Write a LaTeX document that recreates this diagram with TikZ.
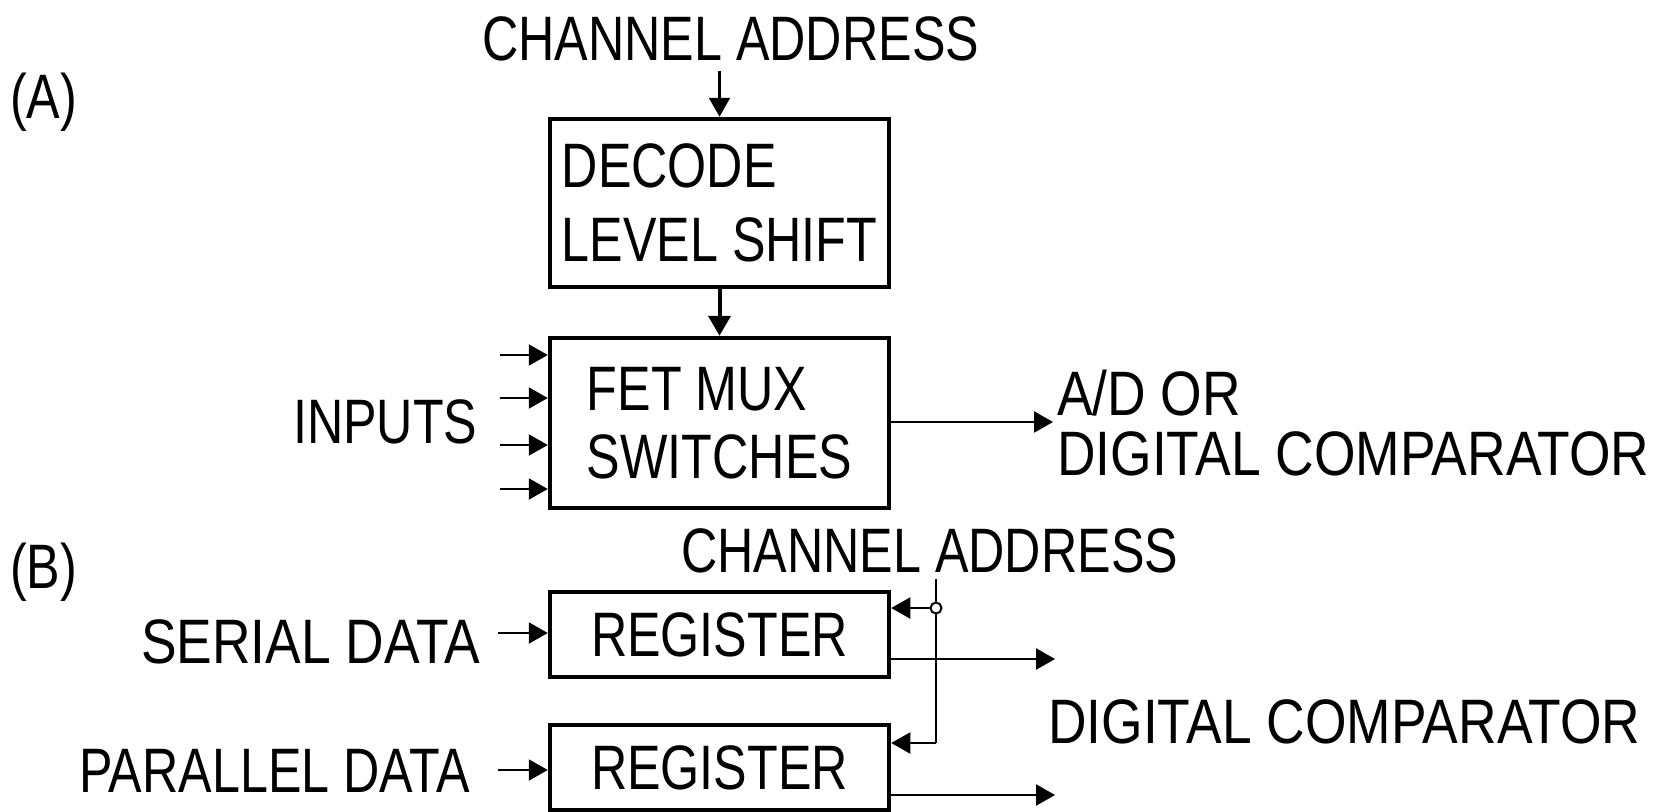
\documentclass[tikz,border=0pt]{standalone}
\usepackage{fontspec}
\setmainfont{Liberation Sans}[FakeStretch=0.8]
\newfontfamily\widefont{Liberation Sans}[FakeStretch=0.85]
\usetikzlibrary{arrows.meta}
\begin{document}
\begin{tikzpicture}[x=1pt,y=-1pt,
  lbl/.style={inner sep=0pt, anchor=base west, font=\fontsize{62.8}{74}\selectfont},
  wlbl/.style={lbl, font=\widefont\fontsize{62.8}{74}\selectfont},
  blk/.style={draw, line width=4.5pt, inner sep=0pt, align=left, minimum width=339pt, font=\fontsize{62.8}{74}\selectfont},
  arr/.style={line width=2.2pt, -{Triangle[length=19pt,width=21pt]}},
  arrT/.style={line width=4pt, -{Triangle[length=20pt,width=22pt]}},
  wire/.style={line width=2.2pt}]
\useasboundingbox (0,0) rectangle (1669,811);
% (A)
\node[lbl] (lA) at (10,118) {(A)};
\node[lbl] (caA) at (482,60) {CHANNEL ADDRESS};
\node[blk, minimum height=168pt] (decode) at (719.5,203) {DECODE\\LEVEL SHIFT};
\node[blk, minimum height=170pt, font=\fontsize{62.8}{68}\selectfont] (fet) at (719.5,423) {FET MUX\\SWITCHES};
\node[lbl] (inputs) at (293,443) {INPUTS};
\node[wlbl] (ad) at (1057,415) {A/D OR};
\node[wlbl] (dcA) at (1057,475) {DIGITAL COMPARATOR};
\draw[arr] ([yshift=-10pt]caA.south -| decode.north) -- (decode.north);
\draw[arrT] (decode.south) -- (fet.north);
\coordinate (i1) at (500,355);
\coordinate (i2) at (500,398);
\coordinate (i3) at (500,445);
\coordinate (i4) at (500,489);
\draw[arr] (i1) -- (i1 -| fet.west);
\draw[arr] (i2) -- (i2 -| fet.west);
\draw[arr] (i3) -- (i3 -| fet.west);
\draw[arr] (i4) -- (i4 -| fet.west);
\coordinate (oA) at (1053,422);
\draw[arr] (fet.east |- oA) -- (oA);
% (B)
\node[lbl] (lB) at (10,588) {(B)};
\node[lbl] (caB) at (681,572) {CHANNEL ADDRESS};
\node[blk, minimum height=85pt, align=center] (reg1) at (719.5,634.5) {REGISTER};
\node[blk, minimum height=85pt, align=center] (reg2) at (719.5,767.5) {REGISTER};
\node[wlbl] (serial) at (141,663) {SERIAL DATA};
\node[lbl] (parallel) at (79,792) {PARALLEL DATA};
\node[wlbl] (dcB) at (1048,743) {DIGITAL COMPARATOR};
\coordinate (s0) at (498,633);
\coordinate (p0) at (498,770);
\draw[arr] (s0) -- (s0 -| reg1.west);
\draw[arr] (p0) -- (p0 -| reg2.west);
\coordinate (jn) at (936,608);
\coordinate (cbb) at (936,743);
\draw[wire] ([yshift=-6pt]caB.south -| jn) -- (cbb);
\draw[arr] (jn) -- (jn -| reg1.east);
\draw[arr] (cbb) -- (cbb -| reg2.east);
\draw[line width=2pt, fill=white] (jn) circle (5.5pt);
\coordinate (o1) at (1055,659);
\coordinate (o2) at (1055,795);
\draw[arr] (o1 -| reg1.east) -- (o1);
\draw[arr] (o2 -| reg2.east) -- (o2);
\end{tikzpicture}
\end{document}
